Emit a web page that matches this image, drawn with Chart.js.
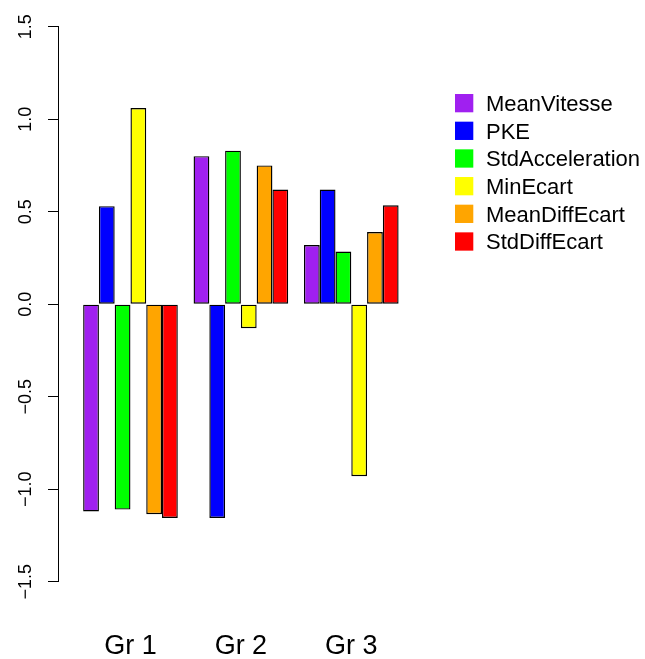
<!DOCTYPE html>
<html>
<head>
<meta charset="utf-8">
<title>Groupes</title>
<script src="https://cdn.jsdelivr.net/npm/chart.js@4.4.1/dist/chart.umd.min.js"></script>
<style>
  html, body { margin:0; padding:0; background:#fff; }
  #wrap { position:relative; width:645px; height:659px; }
</style>
</head>
<body>
<div id="wrap"><canvas id="barChart"></canvas></div>
<script>
// groupes et variables
const categories = ['Gr 1', 'Gr 2', 'Gr 3'];
const seriesNames = ['MeanVitesse', 'PKE', 'StdAcceleration', 'MinEcart', 'MeanDiffEcart', 'StdDiffEcart'];
const seriesColors = ['#A020F0', '#0000FF', '#00FF00', '#FFFF00', '#FFA500', '#FF0000'];

const meanVitesse     = [-1.12,  0.80,  0.32];
const pke             = [ 0.53, -1.155, 0.62];
const stdAcceleration = [-1.11,  0.83,  0.285];
const minEcart        = [ 1.06, -0.13, -0.93];
const meanDiffEcart   = [-1.135, 0.75,  0.39];
const stdDiffEcart    = [-1.155, 0.62,  0.535];

const yTicks = [-1.5, -1.0, -0.5, 0.0, 0.5, 1.0, 1.5];

const seriesValues = [meanVitesse, pke, stdAcceleration, minEcart, meanDiffEcart, stdDiffEcart];
const groupPos = categories.map((c, i) => i + 1);

const FONT = '"Liberation Sans", Arial, Helvetica, sans-serif';

// legende a droite, style R (carres pleins sans bordure)
const sideLegend = {
  id: 'sideLegend',
  afterDraw(chart, args, opts) {
    const ctx = chart.ctx;
    ctx.save();
    ctx.font = opts.size + 'px ' + FONT;
    ctx.textBaseline = 'alphabetic';
    ctx.textAlign = 'left';
    chart.data.datasets.forEach((ds, i) => {
      const top = opts.top + i * opts.step;
      ctx.fillStyle = ds.backgroundColor;
      ctx.fillRect(opts.left, top, opts.box, opts.box);
      ctx.fillStyle = '#000';
      ctx.fillText(ds.label, opts.textX, top + opts.box / 2 + opts.size * 0.358);
    });
    ctx.restore();
  }
};

const datasets = seriesNames.map((name, k) => ({
  label: name,
  data: seriesValues[k].map((v, i) => ({ x: groupPos[i], y: v })),
  backgroundColor: seriesColors[k],
  borderColor: '#000',
  borderWidth: 1.4,
  borderSkipped: false
}));

new Chart(document.getElementById('barChart'), {
  type: 'bar',
  data: { datasets },
  plugins: [sideLegend],
  options: {
    responsive: true,
    maintainAspectRatio: false,
    animation: false,
    categoryPercentage: 6 / 7,
    barPercentage: 1,
    layout: { padding: { top: 26.7, right: 238.5, bottom: 0, left: 0 } },
    plugins: {
      legend: { display: false },
      tooltip: { enabled: false },
      sideLegend: { left: 455, top: 94, box: 18.3, step: 27.67, textX: 486, size: 22 }
    },
    scales: {
      x: {
        type: 'linear',
        min: 0.35,
        max: 3.5,
        offset: false,
        grid: { display: false, drawTicks: false },
        border: { display: false },
        afterBuildTicks: s => { s.ticks = groupPos.map(v => ({ value: v })); },
        afterFit: s => { s.height = 77.3; },
        ticks: {
          autoSkip: false,
          maxRotation: 0,
          padding: 49,
          color: '#000',
          font: { family: FONT, size: 27 },
          callback: (v, i) => categories[i]
        }
      },
      y: {
        min: -1.5,
        max: 1.5,
        afterBuildTicks: s => { s.ticks = yTicks.map(v => ({ value: v })); },
        afterFit: s => { s.width = 58.7; },
        border: { display: true, color: '#000', width: 1 },
        grid: { drawOnChartArea: false, drawTicks: true, tickLength: 10.7, color: '#000' },
        ticks: {
          minRotation: 90,
          maxRotation: 90,
          crossAlign: 'center',
          padding: 4.5,
          color: '#000',
          font: { family: FONT, size: 18 },
          callback: v => v.toFixed(1).replace('-', '\u2212')
        }
      }
    }
  }
});
</script>
</body>
</html>
